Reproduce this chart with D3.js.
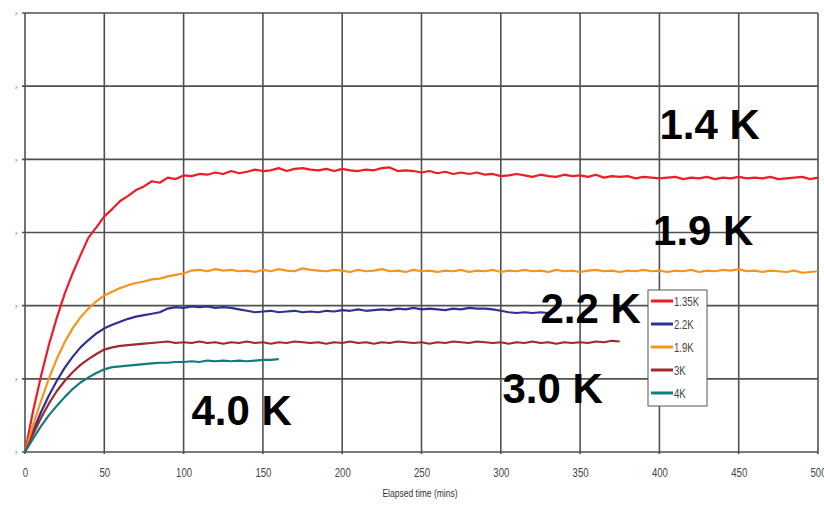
<!DOCTYPE html>
<html>
<head>
<meta charset="utf-8">
<script src="https://cdn.jsdelivr.net/npm/d3@7/dist/d3.min.js"></script>
<style>
  html, body { margin: 0; padding: 0; background: #fff; }
  svg { display: block; }
</style>
</head>
<body>
<svg id="chart" width="824" height="506"></svg>
<script>
// ---------- data ----------
const minutes = [0,5,10,15,20,25,30,35,40,45,50,55,60,65,70,75,80,85,90,95,
  100,105,110,115,120,125,130,135,140,145,150,155,160,165,170,175,180,185,190,195,
  200,205,210,215,220,225,230,235,240,245,250,255,260,265,270,275,280,285,290,295,
  300,305,310,315,320,325,330,335,340,345,350,355,360,365,370,375,380,385,390,395,
  400,405,410,415,420,425,430,435,440,445,450,455,460,465,470,475,480,485,490,495,500];

const red135 = [0.00,0.55,1.03,1.46,1.83,2.16,2.44,2.69,2.93,3.07,3.22,3.32,3.43,3.50,3.58,3.63,3.70,3.68,3.75,3.73,
  3.78,3.77,3.80,3.79,3.82,3.80,3.84,3.81,3.83,3.86,3.84,3.85,3.88,3.84,3.87,3.88,3.86,3.85,3.87,3.84,
  3.87,3.85,3.84,3.86,3.85,3.88,3.89,3.84,3.85,3.84,3.82,3.84,3.81,3.83,3.80,3.82,3.80,3.82,3.79,3.80,
  3.77,3.78,3.80,3.78,3.76,3.79,3.77,3.76,3.79,3.77,3.78,3.76,3.79,3.75,3.77,3.76,3.77,3.74,3.76,3.75,
  3.74,3.75,3.76,3.73,3.75,3.74,3.76,3.73,3.75,3.74,3.76,3.74,3.75,3.74,3.76,3.73,3.74,3.75,3.76,3.73,3.75];

const blue22 = [0.00,0.28,0.54,0.77,0.97,1.15,1.30,1.43,1.53,1.62,1.69,1.74,1.78,1.82,1.85,1.87,1.89,1.91,1.96,1.98,
  1.97,1.99,1.98,1.99,1.97,1.98,1.97,1.95,1.93,1.91,1.92,1.93,1.91,1.92,1.93,1.91,1.92,1.91,1.93,1.92,
  1.94,1.93,1.95,1.93,1.94,1.95,1.94,1.96,1.95,1.97,1.95,1.96,1.95,1.94,1.96,1.95,1.97,1.96,1.96,1.95,
  1.93,1.91,1.90,1.91,1.90,1.91,1.90];

const orange19 = [0.00,0.36,0.69,1.00,1.27,1.50,1.69,1.84,1.96,2.06,2.14,2.19,2.24,2.28,2.31,2.33,2.36,2.37,2.40,2.42,
  2.44,2.48,2.49,2.47,2.50,2.48,2.49,2.47,2.48,2.46,2.49,2.47,2.50,2.48,2.47,2.51,2.49,2.48,2.47,2.49,
  2.48,2.46,2.49,2.47,2.48,2.50,2.47,2.48,2.46,2.49,2.47,2.48,2.46,2.48,2.47,2.49,2.46,2.48,2.47,2.49,
  2.46,2.48,2.47,2.49,2.47,2.48,2.46,2.49,2.47,2.48,2.46,2.48,2.49,2.47,2.48,2.46,2.48,2.47,2.49,2.47,
  2.48,2.46,2.48,2.47,2.49,2.46,2.48,2.47,2.49,2.48,2.50,2.47,2.48,2.46,2.48,2.47,2.46,2.48,2.45,2.46,2.47];

const brown3 = [0.00,0.24,0.46,0.66,0.83,0.97,1.09,1.19,1.27,1.34,1.40,1.43,1.45,1.46,1.47,1.48,1.49,1.50,1.51,1.49,
  1.50,1.49,1.51,1.49,1.50,1.48,1.50,1.49,1.51,1.49,1.50,1.48,1.50,1.49,1.51,1.50,1.49,1.50,1.48,1.50,
  1.49,1.51,1.49,1.50,1.48,1.50,1.49,1.51,1.50,1.49,1.50,1.48,1.50,1.49,1.51,1.50,1.49,1.51,1.50,1.49,
  1.50,1.48,1.50,1.49,1.51,1.49,1.50,1.48,1.50,1.49,1.50,1.49,1.51,1.50,1.52,1.51];

const teal4 = [0.00,0.18,0.35,0.50,0.63,0.75,0.86,0.95,1.02,1.08,1.13,1.16,1.17,1.18,1.19,1.20,1.21,1.22,1.22,1.23,
  1.23,1.24,1.23,1.25,1.24,1.25,1.24,1.25,1.24,1.25,1.26,1.26,1.27];

const seriesNames  = ["1.35K", "2.2K", "1.9K", "3K", "4K"];
const seriesValues = [red135, blue22, orange19, brown3, teal4];
const seriesColors = ["#ee1c25", "#2e3192", "#f7941d", "#9e2a2f", "#117b80"];

const xTicks = [0,50,100,150,200,250,300,350,400,450,500];
const yTicks = [0,1,2,3,4,5,6];
const xTitle = "Elapsed time (mins)";

const bigLabels = ["1.4 K", "1.9 K", "2.2 K", "3.0 K", "4.0 K"];
const bigLabelPos = [[400, 4.28], [396, 2.83], [325, 1.76], [301, 0.67], [105, 0.37]]; // [minutes, value] of left/baseline

// ---------- chart ----------
const svg = d3.select("#chart");
const x = d3.scaleLinear().domain([0, 500]).range([25, 818]);
const y = d3.scaleLinear().domain([0, 6]).range([452, 13]);
const gridColor = "#505050";

// horizontal gridlines
svg.append("g").selectAll("line").data(yTicks).join("line")
  .attr("x1", x(0) - 3).attr("x2", x(500))
  .attr("y1", d => y(d)).attr("y2", d => y(d))
  .attr("stroke", gridColor).attr("stroke-width", 1.6);

// vertical gridlines
svg.append("g").selectAll("line").data(xTicks).join("line")
  .attr("x1", d => x(d)).attr("x2", d => x(d))
  .attr("y1", y(6)).attr("y2", y(0) + 2)
  .attr("stroke", gridColor).attr("stroke-width", 1.6);

// x tick labels via axis
const xAxis = svg.append("g").attr("transform", `translate(0,${y(0)})`)
  .call(d3.axisBottom(x).tickValues(xTicks).tickSize(0).tickPadding(16));
xAxis.select(".domain").remove();
xAxis.selectAll("text")
  .attr("font-family", "Liberation Sans, Arial, sans-serif")
  .attr("font-size", 12).attr("fill", "#444")
  .each(function() {
    const w = this.getComputedTextLength();
    d3.select(this).attr("textLength", w * 0.8).attr("lengthAdjust", "spacingAndGlyphs");
  });

// y tick marks (cut-off labels)
const yAxis = svg.append("g").attr("transform", `translate(${x(0)},0)`)
  .call(d3.axisLeft(y).tickValues(yTicks).tickSize(0).tickPadding(7).tickFormat(() => "›"));
yAxis.select(".domain").remove();
yAxis.selectAll("text").attr("font-size", 9).attr("fill", "#888")
  .attr("font-family", "DejaVu Sans, sans-serif");

// x title
svg.append("text").attr("x", 420).attr("y", 497).attr("text-anchor", "middle")
  .attr("font-family", "Liberation Sans, Arial, sans-serif").attr("font-size", 10).attr("fill", "#333")
  .text(xTitle)
  .each(function() {
    const w = this.getComputedTextLength();
    d3.select(this).attr("textLength", w * 0.85).attr("lengthAdjust", "spacingAndGlyphs");
  });

// lines
const line = d3.line().x((d, i) => x(minutes[i])).y(d => y(d));
svg.append("g").selectAll("path").data(seriesValues).join("path")
  .attr("d", d => line(d))
  .attr("fill", "none")
  .attr("stroke", (d, i) => seriesColors[i])
  .attr("stroke-width", 2.2)
  .attr("stroke-linejoin", "round");

// big labels
svg.append("g").selectAll("text").data(bigLabels).join("text")
  .attr("x", (d, i) => x(bigLabelPos[i][0]))
  .attr("y", (d, i) => y(bigLabelPos[i][1]))
  .attr("font-family", "Liberation Sans, Arial, sans-serif")
  .attr("font-weight", "bold").attr("font-size", 42).attr("fill", "#000")
  .text(d => d);

// legend
const lg = svg.append("g").attr("transform", "translate(648,290)");
lg.append("rect").attr("x", 0).attr("y", 0).attr("width", 59).attr("height", 116)
  .attr("fill", "#fff").attr("stroke", "#555").attr("stroke-width", 1);
const items = lg.selectAll("g.item").data(seriesNames).join("g")
  .attr("class", "item")
  .attr("transform", (d, i) => `translate(0,${11 + i * 23})`);
items.append("line").attr("x1", 3).attr("x2", 25).attr("y1", 0).attr("y2", 0)
  .attr("stroke", (d, i) => seriesColors[i]).attr("stroke-width", 3);
items.append("text").attr("x", 26).attr("y", 4.5)
  .attr("font-family", "Liberation Sans, Arial, sans-serif").attr("font-size", 12).attr("fill", "#444")
  .text(d => d)
  .each(function() {
    const w = this.getComputedTextLength();
    d3.select(this).attr("textLength", w * 0.8).attr("lengthAdjust", "spacingAndGlyphs");
  });
</script>
</body>
</html>
